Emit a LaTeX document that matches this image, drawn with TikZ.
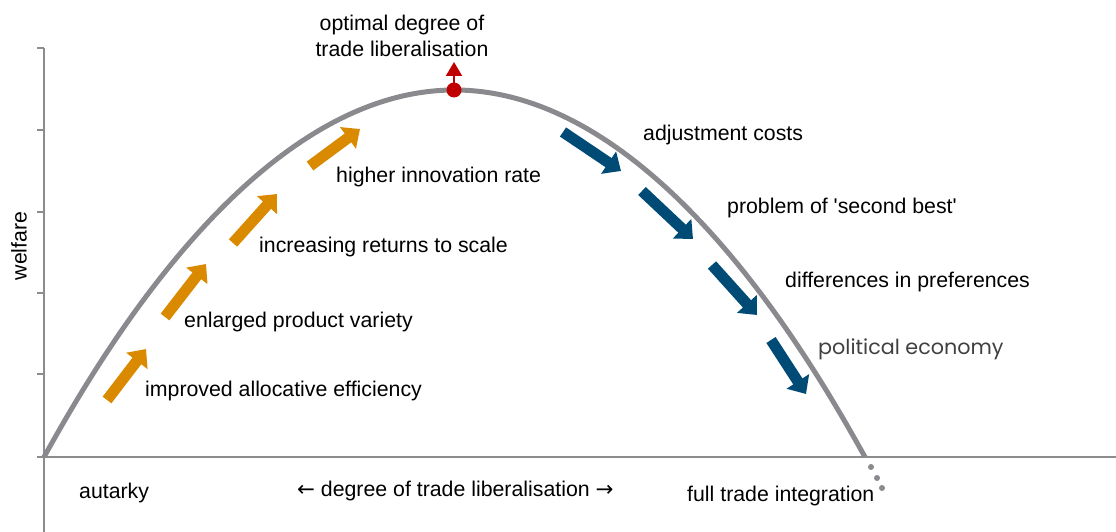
\documentclass[tikz,border=0pt]{standalone}
\usepackage{fontspec}
\setmainfont{Liberation Sans}
\newfontfamily\gothicfont{Poppins}
\newfontfamily\arrowfont{DejaVu Sans}
\usetikzlibrary{arrows.meta}

\definecolor{curvegray}{HTML}{8A898E}
\definecolor{axisgray}{HTML}{8C8C8C}
\definecolor{gainorange}{HTML}{D98A00}
\definecolor{lossblue}{HTML}{004B75}
\definecolor{optred}{HTML}{C00000}

\tikzset{
    txt/.style={anchor=west, inner sep=0pt, font=\fontsize{21.3}{26}\selectfont},
    gain/.style={gainorange, line width=11pt, -{Triangle[length=15pt,width=26pt]}},
    loss/.style={lossblue, line width=11pt, -{Triangle[length=15pt,width=26pt]}},
    axis/.style={axisgray, line width=2pt},
}

\begin{document}
\begin{tikzpicture}[x=1pt, y=-1pt]
    \useasboundingbox (0,0) rectangle (1116,532);

    \draw[axis] (44,48) -- (44,532);
    \draw[axis] (44,457) -- (1116,457);
    \foreach \y in {48,130,212,293,374,457}
        \draw[axis] (37,\y) -- (44,\y);
    \node[txt, anchor=center, rotate=90] (welfare) at (19,246) {welfare};

    \draw[curvegray, line width=5pt] (44,457) parabola bend (454.5,90) (865,457);
    \fill[curvegray] (871,467) circle (3pt);
    \fill[curvegray] (877,478) circle (3pt);
    \fill[curvegray] (882,488) circle (3pt);

    \coordinate (top) at (454,90);
    \coordinate (toptip) at (454,62);
    \fill[optred] (top) circle (7.5pt);
    \draw[optred, line width=2pt, -{Triangle[length=14pt,width=16pt]}] (top) -- (toptip);
    \node[txt, anchor=center, align=center] (optimum) at (402,36) {optimal degree of\\trade liberalisation};

    \coordinate (g1a) at (107,400); \coordinate (g1b) at (146,349);
    \coordinate (g2a) at (165,317); \coordinate (g2b) at (206,264);
    \coordinate (g3a) at (233,243); \coordinate (g3b) at (277,194);
    \coordinate (g4a) at (310,166); \coordinate (g4b) at (360,129);
    \draw[gain] (g1a) -- (g1b);
    \draw[gain] (g2a) -- (g2b);
    \draw[gain] (g3a) -- (g3b);
    \draw[gain] (g4a) -- (g4b);

    \coordinate (l1a) at (563,132); \coordinate (l1b) at (621,171);
    \coordinate (l2a) at (642,191); \coordinate (l2b) at (693,239);
    \coordinate (l3a) at (712,265); \coordinate (l3b) at (757,315);
    \coordinate (l4a) at (771,340); \coordinate (l4b) at (806,394);
    \draw[loss] (l1a) -- (l1b);
    \draw[loss] (l2a) -- (l2b);
    \draw[loss] (l3a) -- (l3b);
    \draw[loss] (l4a) -- (l4b);

    \node[txt] (alloc) at (145,391) {improved allocative efficiency};
    \node[txt] (variety) at (184,322) {enlarged product variety};
    \node[txt] (scale) at (259,247) {increasing returns to scale};
    \node[txt] (innov) at (336,177) {higher innovation rate};

    \node[txt] (adjust) at (643,135) {adjustment costs};
    \node[txt] (second) at (727,208) {problem of \textquotesingle second best\textquotesingle};
    \node[txt] (prefs) at (785,282) {differences in preferences};
    \node[txt, font=\gothicfont\fontsize{20.7}{24}\selectfont, text=black!75] (polit) at (818,349) {political economy};

    \node[txt] (autarky) at (79,493) {autarky};
    \node[txt] (degree) at (297,491) {{\arrowfont ←} degree of trade liberalisation {\arrowfont →}};
    \node[txt] (fullint) at (687,496) {full trade integration};
\end{tikzpicture}
\end{document}
